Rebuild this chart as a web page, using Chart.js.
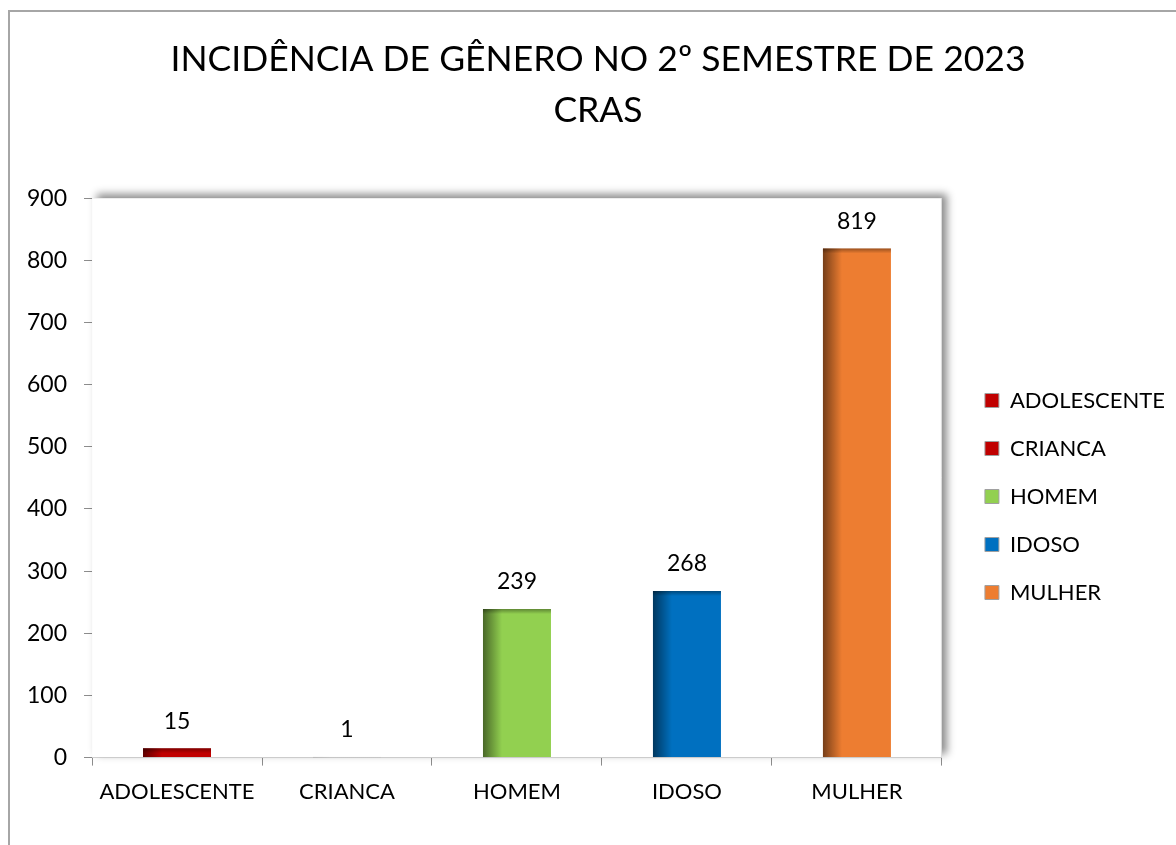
<!DOCTYPE html>
<html lang="pt">
<head>
  <meta charset="UTF-8">
  <title>Incidência de Gênero - CRAS</title>
  <script src="https://cdn.jsdelivr.net/npm/chart.js"></script>
  <style>
    body { margin: 0; background: #fff; }
    #frame { position: absolute; left: 8px; top: 10px; width: 1180px; height: 860px;
             border-left: 2px solid #a6a6a6; border-top: 2px solid #a6a6a6; }
    #wrap { position: absolute; left: 0; top: 0; width: 1176px; height: 845px; }
  </style>
</head>
<body>
  <div id="frame"></div>
  <div id="wrap"><canvas id="chart"></canvas></div>
  <script>
    // categorias e valores
    const categorias = ['ADOLESCENTE', 'CRIANCA', 'HOMEM', 'IDOSO', 'MULHER'];
    const valores = [15, 1, 239, 268, 819];
    const cores = ['#C00000', '#C00000', '#92D050', '#0070C0', '#ED7D31'];
    const yTicks = [0, 100, 200, 300, 400, 500, 600, 700, 800, 900];

    const FONT = 'Lato';

    // sombra da área do gráfico
    const plotShadow = {
      id: 'plotShadow',
      afterLayout(chart) {
        // centraliza o título um pouco mais à direita, como no original
        if (chart.titleBlock) chart.titleBlock.left += 11;
      },
      beforeDatasetsDraw(chart) {
        const { ctx, chartArea: a } = chart;
        ctx.save();
        ctx.shadowColor = 'rgba(0,0,0,0.45)';
        ctx.shadowBlur = 8;
        ctx.shadowOffsetX = 5;
        ctx.shadowOffsetY = -4;
        ctx.fillStyle = '#fff';
        ctx.fillRect(a.left, a.top, a.right - a.left, a.bottom - a.top);
        ctx.restore();
        ctx.save();
        ctx.strokeStyle = '#d9d9d9';
        ctx.lineWidth = 1;
        ctx.beginPath();
        ctx.moveTo(a.right - 0.5, a.top);
        ctx.lineTo(a.right - 0.5, a.bottom);
        ctx.stroke();
        ctx.restore();
      }
    };

    // sombreado lateral das barras + rótulos de valor
    const barExtras = {
      id: 'barExtras',
      afterDatasetsDraw(chart) {
        const { ctx } = chart;
        const meta = chart.getDatasetMeta(0);
        meta.data.forEach((bar, i) => {
          const w = bar.width;
          const left = bar.x - w / 2;
          const h = bar.base - bar.y;
          if (h > 0) {
            ctx.save();
            const g = ctx.createLinearGradient(left, 0, left + w * 0.28, 0);
            g.addColorStop(0, 'rgba(0,0,0,0.5)');
            g.addColorStop(1, 'rgba(0,0,0,0)');
            ctx.fillStyle = g;
            ctx.fillRect(left, bar.y, w * 0.28, h);
            const gt = ctx.createLinearGradient(0, bar.y, 0, bar.y + 5);
            gt.addColorStop(0, 'rgba(0,0,0,0.35)');
            gt.addColorStop(1, 'rgba(0,0,0,0)');
            ctx.fillStyle = gt;
            ctx.fillRect(left, bar.y, w, Math.min(5, h));
            ctx.restore();
          }
          ctx.save();
          ctx.fillStyle = '#000';
          ctx.font = '23px ' + FONT;
          ctx.textAlign = 'center';
          ctx.textBaseline = 'middle';
          ctx.fillText(String(valores[i]), bar.x, bar.y - 27);
          ctx.restore();
        });
      }
    };

    new Chart(document.getElementById('chart'), {
      type: 'bar',
      data: {
        labels: categorias,
        datasets: [{
          label: 'Total',
          data: valores,
          backgroundColor: cores,
          barPercentage: 0.4,
          categoryPercentage: 1
        }]
      },
      options: {
        responsive: true,
        maintainAspectRatio: false,
        animation: false,
        layout: { padding: { top: 35, right: 1, bottom: 27, left: 10 } },
        plugins: {
          title: {
            display: true,
            text: ['INCIDÊNCIA DE GÊNERO NO 2º SEMESTRE DE 2023', 'CRAS'],
            color: '#000',
            font: { family: FONT, size: 35.5, weight: 'normal', lineHeight: 1.41 },
            padding: { top: 0, bottom: 63 }
          },
          legend: {
            position: 'right',
            maxWidth: 320,
            title: { display: true, text: ' ', font: { size: 10, lineHeight: 1 }, padding: { top: 0, bottom: 130 } },
            labels: {
              color: '#000',
              font: { family: FONT, size: 22 },
              boxWidth: 14,
              boxHeight: 14,
              padding: 26,
              generateLabels: () => categorias.map((c, i) => ({
                text: c,
                fillStyle: cores[i],
                strokeStyle: '#a0a0a0',
                fontColor: '#000',
                lineWidth: 1,
                index: i
              }))
            }
          },
          tooltip: { enabled: false }
        },
        scales: {
          x: {
            grid: { display: true, drawOnChartArea: false, offset: true, tickLength: 8, color: '#8c8c8c' },
            border: { color: '#8c8c8c' },
            ticks: { color: '#000', font: { family: FONT, size: 22 }, padding: 13 }
          },
          y: {
            min: 0,
            max: 900,
            afterBuildTicks: (axis) => { axis.ticks = yTicks.map(v => ({ value: v })); },
            grid: { color: '#8c8c8c', tickLength: 8 },
            border: { color: '#8c8c8c' },
            ticks: { color: '#000', font: { family: FONT, size: 23 }, padding: 17 }
          },
          // espaçador invisível entre a área do gráfico e a legenda
          gap: {
            position: 'right',
            display: true,
            grid: { drawOnChartArea: false, drawTicks: false },
            border: { display: false },
            ticks: { display: false },
            afterFit: (s) => { s.width = 17; }
          }
        }
      },
      plugins: [plotShadow, barExtras]
    });
  </script>
</body>
</html>
